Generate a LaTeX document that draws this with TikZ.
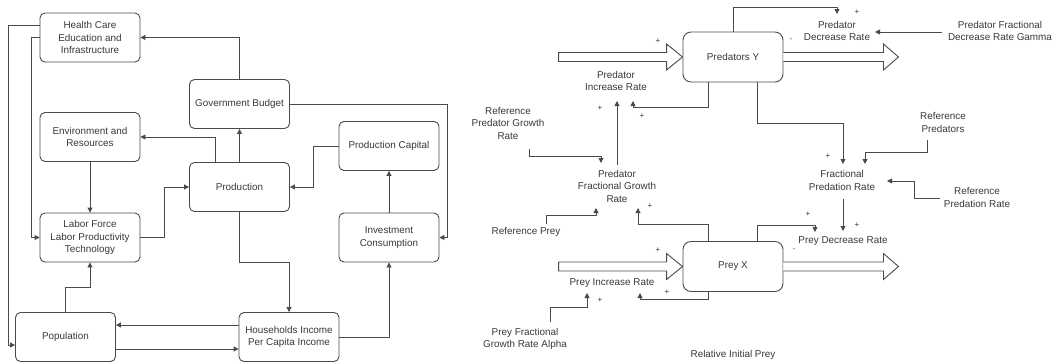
\documentclass[tikz,border=0pt]{standalone}
\usepackage{fontspec}
\setmainfont{Liberation Sans}
\usetikzlibrary{arrows.meta}
\definecolor{ln}{HTML}{4A4A4A}
\definecolor{tx}{HTML}{383838}
\begin{document}
\begin{tikzpicture}[x=1pt,y=-1pt,
  every node/.style={text=tx,font=\fontsize{9.9}{12.5}\selectfont,inner sep=1pt,align=center},
  box/.style={draw=ln,line width=0.9pt,rounded corners=5pt,minimum width=100pt,minimum height=49pt},
  stock/.style={draw=ln,line width=0.9pt,rounded corners=8pt,minimum width=100pt,minimum height=50pt},
  arr/.style={draw=ln,line width=0.9pt,-{Triangle[width=5pt,length=5pt]}},
  flow/.style={draw=ln,line width=0.9pt,fill=white},
  sgn/.style={font=\fontsize{8}{9}\selectfont,inner sep=0pt}]
\useasboundingbox (0,0) rectangle (1061,364);
% ---------------- left diagram ----------------
\node[box] (hc) at (90,37.5) {Health Care\\Education and\\Infrastructure};
\node[box] (gb) at (239.5,104) {Government Budget};
\node[box] (env) at (90,137) {Environment and\\Resources};
\node[box] (pc) at (389,146) {Production Capital};
\node[box] (prod) at (239.5,187) {Production};
\node[box] (lab) at (90,237.5) {Labor Force\\Labor Productivity\\Technology};
\node[box] (inv) at (389,237.5) {Investment\\Consumption};
\node[box] (pop) at (65.5,337) {Population};
\node[box] (hh) at (289,337) {Households Income\\Per Capita Income};

\draw[arr] ([yshift=12.5pt]hc.west) -- (8,25) -- (8,345) -- ([yshift=-8pt]pop.west);
\draw[arr] (hc.west) -- ++(-8,0) |- (lab.west);
\draw[arr] (gb.north) |- (hc.east);
\draw[arr] (gb.east) -| ([xshift=8pt]inv.east) -- (inv.east);
\draw[arr] (prod.north) -- (gb.south);
\draw[arr] ([xshift=-24.5pt]prod.north) |- (env.east);
\draw[arr] (env.south) -- (lab.north);
\draw[arr] (lab.east) -- ++(24,0) |- (prod.west);
\draw[arr] (pc.west) -- ++(-25,0) |- (prod.east);
\draw[arr] (inv.north) -- (pc.south);
\draw[arr] (prod.south) -- ++(0,50) -| (hh.north);
\draw[arr] (pop.north) -- ++(0,-25) -| (lab.south);
\draw[arr] ([yshift=12pt]hh.west) -- ([yshift=12pt]pop.east);
\draw[arr] ([yshift=-12pt]pop.east) -- ([yshift=-12pt]hh.west);
\draw[arr] (hh.east) -| (inv.south);

% ---------------- right diagram ----------------
\node[stock] (py) at (733,57) {Predators Y};
\node[stock] (px) at (733,266.5) {Prey X};

% flows
\draw[flow] (py.west) -- ++(-16,-13) -- ++(0,8.5) -- ++(-108,0) -- ++(0,9) -- ++(108,0) -- ++(0,8.5) -- cycle;
\draw[flow] ([yshift=4.5pt]py.east) -- ++(100,0) -- ++(0,-8.5) -- ++(15,13) -- ++(-15,13) -- ++(0,-8.5) -- ++(-100,0);
\draw[flow] (px.west) -- ++(-16,-13) -- ++(0,8.5) -- ++(-108,0) -- ++(0,9) -- ++(108,0) -- ++(0,8.5) -- cycle;
\draw[flow] ([yshift=4.5pt]px.east) -- ++(100,0) -- ++(0,-8.5) -- ++(15,13) -- ++(-15,13) -- ++(0,-8.5) -- ++(-100,0);

% texts
\node (pir) at (616,81) {Predator\\Increase Rate};
\node (rpgr) at (508,123) {Reference\\Predator Growth\\Rate};
\node (pfgr) at (617,186) {Predator\\Fractional Growth\\Rate};
\node (rprey) at (526,232) {Reference Prey};
\node (pxir) at (612,283) {Prey Increase Rate};
\node (pfgra) at (525,339) {Prey Fractional\\Growth Rate Alpha};
\node (rip) at (733,355) {Relative Initial Prey};
\node (pdr) at (837,31) {Predator\\Decrease Rate};
\node (pfdrg) at (1000,31) {Predator Fractional\\Decrease Rate Gamma};
\node (rpred) at (943,122.5) {Reference\\Predators};
\node (fpr) at (842,180.5) {Fractional\\Predation Rate};
\node (rpr) at (977,197.5) {Reference\\Predation Rate};
\node (pdrx) at (843,241) {Prey Decrease Rate};

% signs
\node[sgn] at (658,41) {+};
\node[sgn] at (600,108) {+};
\node[sgn] at (642,116) {+};
\node[sgn] at (650,206) {+};
\node[sgn] at (658,250) {+};
\node[sgn] at (667,292) {+};
\node[sgn] at (600,300) {+};
\node[sgn] at (857,12) {+};
\node[sgn] at (791,40) {-};
\node[sgn] at (828,156) {+};
\node[sgn] at (857,225) {+};
\node[sgn] at (808,214) {+};
\node[sgn] at (794,250) {-};

% connectors
\coordinate (t1) at (633,101);
\coordinate (t2) at (617,101);
\coordinate (t3) at (601,163);
\coordinate (t4) at (638,208);
\coordinate (t5) at (596,208);
\coordinate (t6) at (640,293);
\coordinate (t7) at (587,293);
\coordinate (t8) at (837,14);
\coordinate (t9) at (875,32);
\coordinate (t10) at (843,164);
\coordinate (t11) at (865,164);
\coordinate (t12) at (887,181);
\coordinate (t13) at (843,231);
\coordinate (t14) at (815,232);

\draw[arr] ([xshift=-25pt]py.south) |- (633,107) -- (t1);
\draw[arr] (617,165) -- (t2);
\draw[arr] (529,149) |- (601,156) -- (t3);
\draw[arr] ([xshift=-25pt]px.north) |- (638,224) -- (t4);
\draw[arr] (546,224) |- (596,215) -- (t5);
\draw[arr] ([xshift=-25pt]px.south) |- (640,299) -- (t6);
\draw[arr] (550,322) |- (587,307) -- (t7);
\draw[arr] (py.north) |- (837,7) -- (t8);
\draw[arr] (942,32) -- (t9);
\draw[arr] ([xshift=24pt]py.south) |- (843,123) -- (t10);
\draw[arr] (927,140) |- (865,152) -- (t11);
\draw[arr] (940,198) -- (914,198) -- (914,181) -- (t12);
\draw[arr] (843,199) -- (t13);
\draw[arr] ([xshift=24pt]px.north) |- (815,225) -- (t14);
\end{tikzpicture}
\end{document}
